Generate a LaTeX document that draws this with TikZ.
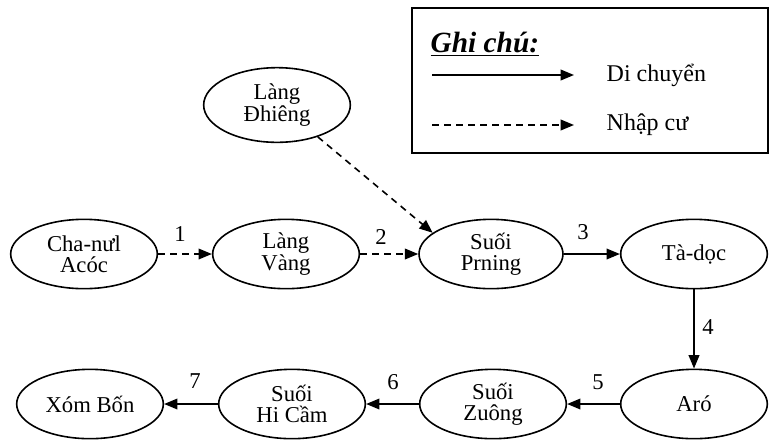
\documentclass[tikz,border=0pt]{standalone}
\usepackage{fontspec}
\setmainfont{Liberation Serif}
\usetikzlibrary{shapes.geometric,arrows.meta}

\begin{document}
\begin{tikzpicture}[x=0.75pt,y=0.75pt,yscale=-1,xscale=1,
  place/.style={draw,line width=1.2pt,ellipse,minimum width=110pt,minimum height=52pt,
    inner sep=0pt,align=center,font=\fontsize{17}{16}\selectfont},
  move/.style={line width=1.2pt,-{Triangle[length=10pt,width=8pt]}},
  settle/.style={move,dashed,dash pattern=on 5pt off 4pt},
  num/.style={font=\fontsize{17}{18}\selectfont}]
\useasboundingbox (0,0) rectangle (771,444);

% legend
\draw [line width=1.2pt] (412, 8) rectangle (768, 153);
\node [anchor=west,font=\fontsize{22}{24}\selectfont\bfseries\itshape] (ghichu) at (426, 44) {\underline{Ghi chú:}};
\coordinate (solidA) at (432, 75);
\coordinate (solidB) at (574, 75);
\coordinate (dashA) at (432, 125);
\coordinate (dashB) at (574, 125);
\draw [move] (solidA) -- (solidB);
\draw [settle] (dashA) -- (dashB);
\node [anchor=west,font=\fontsize{18}{20}\selectfont] (dichuyen) at (602, 75) {Di chuyển};
\node [anchor=west,font=\fontsize{18}{20}\selectfont] (nhapcu) at (602, 125) {Nhập cư};

% top row
\node [place,minimum height=56pt] (dhieng) at (277, 105) {Làng\\Đhiêng};
\node [place] (chanul) at (84, 254) {Cha-nưl\\Acóc};
\node [place] (langvang) at (286, 254) {Làng\\Vàng};
\node [place,minimum width=108pt] (prning) at (491, 254) {Suối\\Prning};
\node [place] (tadoc) at (694, 254) {Tà-dọc};

% bottom row
\node [place] (aro) at (694, 404) {Aró};
\node [place] (zuong) at (493, 404) {Suối\\Zuông};
\node [place] (hicam) at (292, 404) {Suối\\Hi Cầm};
\node [place] (xombon) at (90, 404) {Xóm Bốn};

% connectors
\draw [settle] (chanul) -- (langvang);
\draw [settle] (langvang) -- (prning);
\draw [settle] (dhieng.-38) -- (prning.160);
\draw [move] (prning) -- (tadoc);
\draw [move] (tadoc) -- (aro);
\draw [move] (aro) -- (zuong);
\draw [move] (zuong) -- (hicam);
\draw [move] (hicam) -- (xombon);

% step numbers
\node [num] (n1) at (180, 234) {1};
\node [num] (n2) at (381, 237) {2};
\node [num] (n3) at (583, 232) {3};
\node [num] (n4) at (708, 327) {4};
\node [num] (n5) at (598, 382) {5};
\node [num] (n6) at (393, 382) {6};
\node [num] (n7) at (195, 381) {7};
\end{tikzpicture}
\end{document}
